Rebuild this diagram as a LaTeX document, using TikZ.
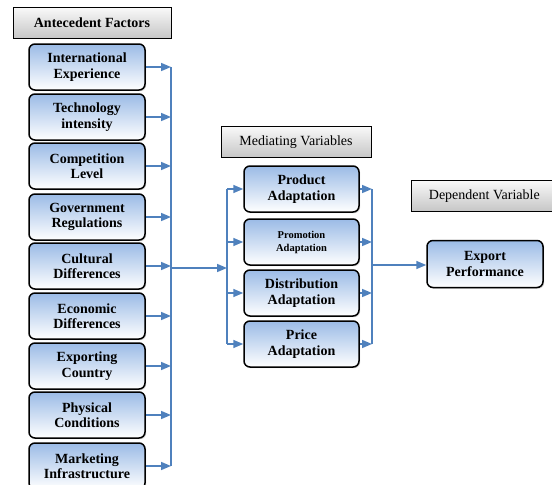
\documentclass[tikz,border=0pt]{standalone}
\usepackage{fontspec}
\setmainfont{Liberation Serif}
\usetikzlibrary{arrows.meta,shadows}
\definecolor{lineblue}{RGB}{79,129,189}
\definecolor{boxblue}{RGB}{155,187,230}
\tikzset{
  factor/.style={draw=black, line width=1.5pt, rounded corners=6pt,
    top color=boxblue, bottom color=white, minimum width=116pt, minimum height=46pt,
    align=center, font=\bfseries\fontsize{14}{15.5}\selectfont, inner sep=1pt,
    drop shadow={opacity=0.35, shadow xshift=1.2pt, shadow yshift=-1.2pt}},
  header/.style={draw=black, line width=0.6pt, top color=gray!5, bottom color=gray!45,
    minimum height=31pt, align=center, inner sep=2pt},
  conn/.style={draw=lineblue, line width=1.6pt},
  arr/.style={conn, -{Triangle[length=10pt,width=8pt,fill=lineblue]}}
}
\begin{document}
\begin{tikzpicture}[x=1pt,y=-1pt]
\useasboundingbox (0,0) rectangle (552,485);
% headers
\node[header, minimum width=158pt, font=\bfseries\fontsize{14}{16}\selectfont] (hA) at (92,23) {Antecedent Factors};
\node[header, minimum width=150pt, font=\fontsize{14}{16}\selectfont] (hM) at (296,142) {Mediating Variables};
\node[header, minimum width=146pt, font=\fontsize{14}{16}\selectfont, anchor=west] (hD) at (411,196) {Dependent Variable};
% antecedent factors
\node[factor] (f1) at (87,67) {International\\Experience};
\node[factor] (f2) at (87,117) {Technology\\intensity};
\node[factor] (f3) at (87,166) {Competition\\Level};
\node[factor] (f4) at (87,217) {Government\\Regulations};
\node[factor] (f5) at (87,266) {Cultural\\Differences};
\node[factor] (f6) at (87,316) {Economic\\Differences};
\node[factor] (f7) at (87,366) {Exporting\\Country};
\node[factor] (f8) at (87,415) {Physical\\Conditions};
\node[factor] (f9) at (87,466) {Marketing\\Infrastructure};
% mediating
\node[factor, minimum width=115pt] (m1) at (301.5,189) {Product\\Adaptation};
\node[factor, minimum width=115pt, font=\bfseries\fontsize{10.5}{13}\selectfont] (m2) at (301.5,242) {Promotion\\Adaptation};
\node[factor, minimum width=115pt] (m3) at (301.5,293) {Distribution\\Adaptation};
\node[factor, minimum width=115pt] (m4) at (301.5,344) {Price\\Adaptation};
% dependent
\node[factor, minimum width=116pt, minimum height=47pt] (d) at (485,264) {Export\\Performance};
% bus coordinates
\coordinate (lt) at (171,67);
\coordinate (lb) at (171,466);
\coordinate (lm) at (171,268);
\coordinate (mt) at (227,189);
\coordinate (mb) at (227,344);
\coordinate (mm) at (227,268);
\coordinate (rt) at (372,189);
\coordinate (rb) at (372,344);
\coordinate (rm) at (372,265);
% lines
\draw[conn] (lt) -- (lb);
\foreach \i in {1,...,9} {\draw[arr] (f\i.east) -- (f\i.east -| lt);}
\draw[arr] (lm) -- (mm);
\draw[conn] (mt) -- (mb);
\foreach \i in {1,...,4} {\draw[arr] (m\i.west -| mt) -- (m\i.west);}
\draw[conn] (rt) -- (rb);
\foreach \i in {1,...,4} {\draw[arr] (m\i.east) -- (m\i.east -| rt);}
\draw[arr] (rm) -- (d.west |- rm);
\end{tikzpicture}
\end{document}
